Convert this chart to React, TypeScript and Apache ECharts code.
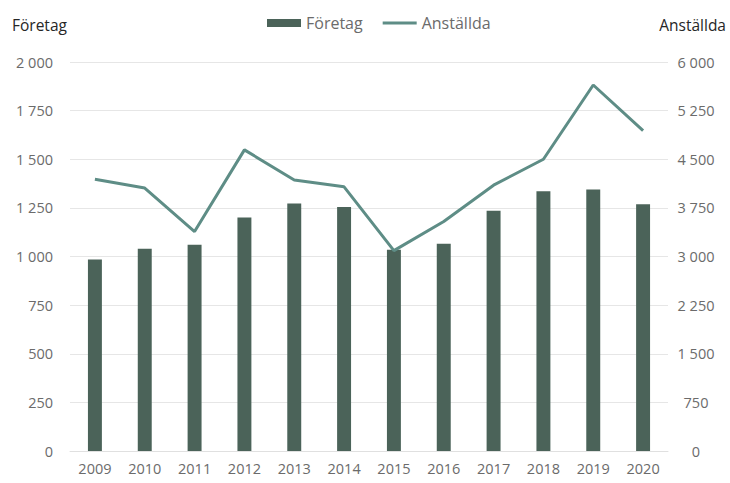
import React, { useEffect, useRef } from "react";
import * as echarts from "echarts";

const years = ["2009", "2010", "2011", "2012", "2013", "2014", "2015", "2016", "2017", "2018", "2019", "2020"];
const foretag = [985, 1040, 1060, 1200, 1272, 1255, 1035, 1065, 1235, 1335, 1345, 1268];
const anstallda = [4190, 4055, 3385, 4645, 4180, 4075, 3090, 3540, 4100, 4500, 5645, 4940];

const fmt = (v: number) => {
  const s = String(Math.round(v));
  return s.length > 3 ? s.slice(0, s.length - 3) + " " + s.slice(s.length - 3) : s;
};

const FONT = "'Open Sans', 'Noto Sans', sans-serif";

export default function App() {
  const ref = useRef<HTMLDivElement>(null);
  useEffect(() => {
    if (!ref.current) return;
    const chart = echarts.init(ref.current, undefined, { renderer: "svg" });
    chart.setOption({
      animation: false,
      textStyle: { fontFamily: FONT },
      legend: {
        top: 10,
        left: 262,
        itemWidth: 34,
        itemHeight: 8,
        itemGap: 20,
        textStyle: { color: "#6b6b6b", fontSize: 16, fontFamily: FONT, padding: [0, 0, 0, 0] },
        data: [
          { name: "Företag", icon: "rect" },
          { name: "Anställda", icon: "path://M0,0 L34,0 L34,3 L0,3 Z" },
        ],
      },
      grid: { left: 70, right: 62, top: 62, bottom: 32 },
      xAxis: {
        type: "category",
        data: years,
        axisLine: { show: true, lineStyle: { color: "#e0e0e0" } },
        axisTick: { show: false },
        axisLabel: { color: "#6b6b6b", fontSize: 14.5, fontFamily: FONT, margin: 10 },
      },
      yAxis: [
        {
          type: "value",
          name: "Företag",
          nameLocation: "end",
          nameGap: 29,
          nameTextStyle: { color: "#262626", fontSize: 15.5, fontFamily: FONT, align: "left", padding: [0, 0, 0, -58] },
          min: 0,
          max: 2000,
          interval: 250,
          axisLine: { show: false },
          axisTick: { show: false },
          splitLine: { lineStyle: { color: "#e6e6e6", width: 1 } },
          axisLabel: { color: "#6b6b6b", fontSize: 14.5, fontFamily: FONT, margin: 17, formatter: fmt },
        },
        {
          type: "value",
          name: "Anställda",
          nameLocation: "end",
          nameGap: 29,
          nameTextStyle: { color: "#262626", fontSize: 15.5, fontFamily: FONT, align: "right", padding: [0, -58, 0, 0] },
          min: 0,
          max: 6000,
          interval: 750,
          axisLine: { show: false },
          axisTick: { show: false },
          splitLine: { show: false },
          axisLabel: { color: "#6b6b6b", fontSize: 14.5, fontFamily: FONT, margin: 28, align: "center", formatter: fmt },
        },
      ],
      series: [
        {
          name: "Företag",
          type: "bar",
          data: foretag,
          barWidth: "28%",
          itemStyle: { color: "#4b6359" },
          yAxisIndex: 0,
        },
        {
          name: "Anställda",
          type: "line",
          data: anstallda,
          yAxisIndex: 1,
          symbol: "none",
          lineStyle: { color: "#5e8d86", width: 3 },
          itemStyle: { color: "#5e8d86" },
        },
      ],
    });
    return () => chart.dispose();
  }, []);
  return (
    <div
      ref={ref}
      style={{ position: "fixed", left: 0, top: 0, width: 730, height: 483, background: "#fff" }}
    />
  );
}
